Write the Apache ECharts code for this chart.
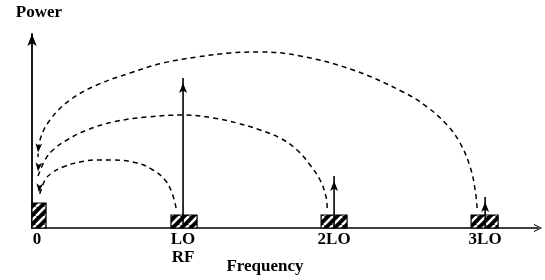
<!DOCTYPE html>
<html>
<head>
<meta charset="utf-8">
<script src="https://cdn.jsdelivr.net/npm/echarts@6/dist/echarts.min.js"></script>
<style>
  html, body { margin: 0; padding: 0; background: #fff; }
  #chart { width: 545px; height: 280px; }
</style>
</head>
<body>
<div id="chart"></div>
<script>
// frequency in units of LO, power in arbitrary units
var freqLabels = ["0", "LO\nRF", "2LO", "3LO"];

// hatched noise bands
var bandLeft = [0, 0.92, 1.914, 2.907];
var bandRight = [0.093, 1.093, 2.086, 3.086];
var bandPower = [12.5, 6.5, 6.5, 6.5];

// LO tone and its harmonics
var toneFreq = [1, 2, 3];
var tonePower = [75, 26, 15.5];

// dashed mixing paths, each ends at DC
var pathLO = [
  [0.954, 10], [0.927, 17.5], [0.881, 24], [0.801, 29], [0.695, 32.5],
  [0.536, 34], [0.43, 34], [0.318, 33], [0.205, 30.5], [0.132, 27.5],
  [0.086, 24], [0.046, 15.5]
];
var path2LO = [
  [1.954, 10], [1.947, 15.5], [1.907, 24], [1.841, 31.5], [1.755, 39],
  [1.642, 45], [1.51, 49], [1.358, 52.5], [1.199, 55], [1.013, 56.5],
  [0.762, 55.5], [0.536, 53], [0.364, 49], [0.232, 44], [0.139, 39],
  [0.086, 34], [0.04, 26]
];
var path3LO = [
  [2.947, 10], [2.934, 19], [2.901, 30.5], [2.834, 42.5], [2.748, 51.5],
  [2.616, 60.5], [2.457, 68], [2.126, 79], [1.775, 86], [1.51, 88],
  [1.311, 87.5], [1.093, 85.5], [0.868, 82.5], [0.649, 77.5], [0.43, 71.5],
  [0.252, 64], [0.119, 54], [0.053, 44], [0.04, 35.5]
];

var font = "Liberation Serif";

// black tile with white "/" stripes
function hatchTile() {
  var c = document.createElement("canvas");
  c.width = 9;
  c.height = 9;
  var ctx = c.getContext("2d");
  ctx.fillStyle = "#000";
  ctx.fillRect(0, 0, 9, 9);
  ctx.strokeStyle = "#fff";
  ctx.lineWidth = 2.6;
  [-9, 0, 9].forEach(function (d) {
    ctx.beginPath();
    ctx.moveTo(d, 9);
    ctx.lineTo(d + 9, 0);
    ctx.stroke();
  });
  return c;
}
var hatch = { image: hatchTile(), repeat: "repeat" };

var chart = echarts.init(document.getElementById("chart"));

var series = [];

series.push({
  type: "custom",
  data: bandLeft.map(function (x, i) {
    return [x, bandRight[i], bandPower[i]];
  }),
  encode: { x: [0, 1], y: 2 },
  z: 3,
  renderItem: function (params, api) {
    var p0 = api.coord([api.value(0), api.value(2)]);
    var p1 = api.coord([api.value(1), 0]);
    return {
      type: "rect",
      shape: { x: p0[0], y: p0[1], width: p1[0] - p0[0], height: p1[1] - p0[1] },
      style: { fill: hatch, stroke: "#000", lineWidth: 1.2 }
    };
  }
});

toneFreq.forEach(function (f, i) {
  series.push({
    type: "line",
    symbol: "none",
    z: 4,
    lineStyle: { color: "#000", width: 1.6 },
    data: [
      [f, 0],
      {
        value: [f, tonePower[i]],
        symbol: "arrow",
        symbolSize: [6, 10],
        symbolOffset: [0, "50%"],
        itemStyle: { color: "#000" }
      }
    ]
  });
});

[pathLO, path2LO, path3LO].forEach(function (path) {
  var pts = path.slice(0, -1);
  var end = path[path.length - 1];
  pts.push({
    value: end,
    symbol: "arrow",
    symbolSize: [5, 9],
    symbolRotate: 175,
    symbolOffset: [0, "-50%"],
    itemStyle: { color: "#000" }
  });
  series.push({
    type: "line",
    smooth: 0.4,
    symbol: "none",
    z: 2,
    lineStyle: { color: "#000", width: 1.5, type: [5, 4] },
    data: pts
  });
});

var option = {
  animation: false,
  backgroundColor: "#fff",
  grid: { left: 32, right: 7, top: 34, bottom: 52, outerBoundsMode: "none" },
  xAxis: {
    type: "value",
    min: 0,
    max: 3.35,
    interval: 1,
    name: "Frequency",
    nameLocation: "middle",
    nameGap: 30,
    nameMoveOverlap: false,
    nameTextStyle: {
      fontFamily: font,
      fontWeight: "bold",
      fontSize: 17,
      color: "#000",
      padding: [0, 40, 0, 0]
    },
    axisLine: {
      onZero: false,
      symbol: ["none", "path://M0,10 L5,0 L10,10 L8.6,10 L5,2.6 L1.4,10 Z"],
      symbolSize: [8, 9],
      lineStyle: { color: "#000", width: 1.5 }
    },
    axisTick: { show: false },
    splitLine: { show: false },
    axisLabel: {
      margin: 3,
      showMaxLabel: false,
      fontFamily: font,
      fontWeight: "bold",
      fontSize: 17,
      lineHeight: 18,
      color: "#000",
      formatter: function (v) {
        var s = freqLabels[v];
        return v === 0 ? "{z|" + s + "}" : s;
      },
      rich: {
        z: {
          fontFamily: font,
          fontWeight: "bold",
          fontSize: 17,
          color: "#000",
          padding: [0, 0, 0, 10]
        }
      }
    }
  },
  yAxis: {
    type: "value",
    min: 0,
    max: 97,
    name: "Power",
    nameLocation: "end",
    nameGap: 13,
    nameTextStyle: {
      fontFamily: font,
      fontWeight: "bold",
      fontSize: 17,
      color: "#000",
      padding: [0, 0, 0, 14]
    },
    axisLine: {
      onZero: false,
      symbol: ["none", "arrow"],
      symbolSize: [7, 12],
      lineStyle: { color: "#000", width: 1.8 }
    },
    axisTick: { show: false },
    axisLabel: { show: false },
    splitLine: { show: false }
  },
  series: series
};

chart.setOption(option);
</script>
</body>
</html>
